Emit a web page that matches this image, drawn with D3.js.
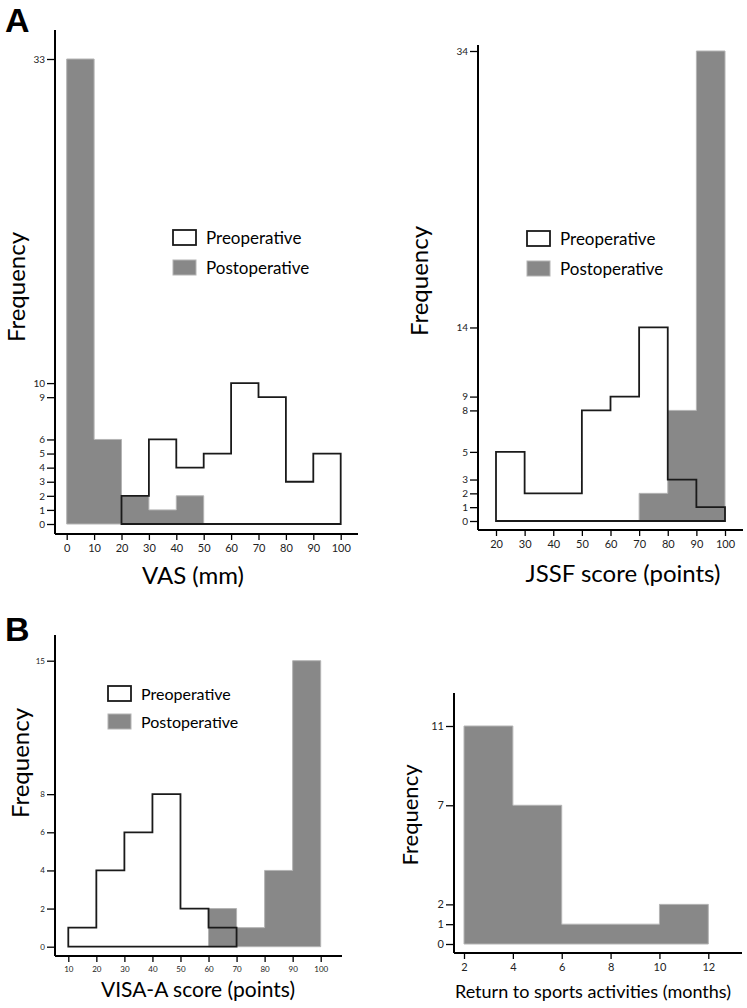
<!DOCTYPE html>
<html>
<head>
<meta charset="utf-8">
<script src="https://cdn.jsdelivr.net/npm/d3@7"></script>
<style>
  body { margin: 0; background: #fff; }
  svg text { font-family: Lato, 'Open Sans', sans-serif; }
  .tick text { fill: #222; }
  .panel-label { font-family: 'Liberation Sans', Arial, sans-serif !important; font-weight: bold; }
</style>
</head>
<body>
<svg width="747" height="1008"></svg>
<script>
  // --- data: histogram bin edges and counts per panel ---
  const legendItems = ['Preoperative', 'Postoperative'];

  const vasBins = [0, 10, 20, 30, 40, 50, 60, 70, 80, 90, 100];
  const vasPre = [0, 0, 2, 6, 4, 5, 10, 9, 3, 5];
  const vasPost = [33, 6, 2, 1, 2, 0, 0, 0, 0, 0];
  const vasYTicks = [0, 1, 2, 3, 4, 5, 6, 9, 10, 33];

  const jssfBins = [20, 30, 40, 50, 60, 70, 80, 90, 100];
  const jssfPre = [5, 2, 2, 8, 9, 14, 3, 1];
  const jssfPost = [0, 0, 0, 0, 0, 2, 8, 34];
  const jssfYTicks = [0, 1, 2, 3, 5, 8, 9, 14, 34];

  const visaBins = [10, 20, 30, 40, 50, 60, 70, 80, 90, 100];
  const visaPre = [1, 4, 6, 8, 2, 1, 0, 0, 0];
  const visaPost = [0, 0, 0, 0, 0, 2, 1, 4, 15];
  const visaYTicks = [0, 2, 4, 6, 8, 15];

  const rtsBins = [2, 4, 6, 8, 10, 12];
  const rtsPost = [11, 7, 1, 1, 2];
  const rtsYTicks = [0, 1, 2, 7, 11];
  const rtsXTicks = [2, 4, 6, 8, 10, 12];

  const svg = d3.select('svg');

  // outline polygon of a histogram (only over the non-zero bins)
  const histPoints = (bins, counts) => {
    const nz = counts.map((c, i) => c > 0 ? i : -1).filter(i => i >= 0);
    const i0 = d3.min(nz), i1 = d3.max(nz);
    const pts = [[bins[i0], 0]];
    for (let i = i0; i <= i1; i++) {
      pts.push([bins[i], counts[i]]);
      pts.push([bins[i + 1], counts[i]]);
    }
    pts.push([bins[i1 + 1], 0]);
    return pts;
  };

  const drawPanel = p => {
    const x = d3.scaleLinear().domain(p.xDomain).range(p.xRange);
    const y = d3.scaleLinear().domain(p.yDomain).range(p.yRange);
    const g = svg.append('g');
    const line = d3.line().x(d => x(d[0])).y(d => y(d[1]));

    if (p.post) {
      g.append('path')
        .attr('d', line(histPoints(p.bins, p.post)) + 'Z')
        .attr('fill', '#888')
        .attr('stroke', '#b4b4b4')
        .attr('stroke-width', 1);
    }
    if (p.pre) {
      g.append('path')
        .attr('d', line(histPoints(p.bins, p.pre)) + 'Z')
        .attr('fill', 'none')
        .attr('stroke', '#1a1a1a')
        .attr('stroke-width', 1.8);
    }

    // axes
    const yAxisG = g.append('g')
      .attr('transform', `translate(${p.axisX},0)`)
      .call(d3.axisLeft(y).tickValues(p.yTicks).tickSize(8).tickPadding(2).tickSizeOuter(0));
    yAxisG.select('.domain').remove();
    yAxisG.selectAll('.tick text').style('font-size', p.yTickSize + 'px');
    yAxisG.selectAll('.tick line').attr('stroke-width', 1.3);

    const xAxisG = g.append('g')
      .attr('transform', `translate(0,${p.axisY})`)
      .call(d3.axisBottom(x).tickValues(p.xTicks).tickSize(6).tickPadding(4).tickSizeOuter(0));
    xAxisG.select('.domain').remove();
    xAxisG.selectAll('.tick text').style('font-size', p.xTickSize + 'px');
    xAxisG.selectAll('.tick line').attr('stroke-width', 1.3);

    g.append('line')
      .attr('x1', p.axisX).attr('x2', p.axisX)
      .attr('y1', p.axisTop).attr('y2', p.axisY)
      .attr('stroke', '#000').attr('stroke-width', 2);
    g.append('line')
      .attr('x1', p.axisX).attr('x2', p.axisRight)
      .attr('y1', p.axisY).attr('y2', p.axisY)
      .attr('stroke', '#000').attr('stroke-width', 2);

    // titles
    g.append('text')
      .attr('x', p.xTitle[0]).attr('y', p.xTitle[1])
      .attr('text-anchor', 'middle')
      .style('font-size', p.xTitle[2] + 'px')
      .text(p.xLabel);
    g.append('text')
      .attr('transform', `translate(${p.yTitle[0]},${p.yTitle[1]}) rotate(-90)`)
      .attr('text-anchor', 'middle')
      .style('font-size', p.yTitle[2] + 'px')
      .text('Frequency');

    // legend
    if (p.legend) {
      const [lx, ly, gap] = p.legend;
      legendItems.forEach((name, i) => {
        g.append('rect')
          .attr('x', lx).attr('y', ly + i * gap)
          .attr('width', 23).attr('height', 15)
          .attr('fill', i === 0 ? '#fff' : '#888')
          .attr('stroke', i === 0 ? '#1a1a1a' : '#b4b4b4')
          .attr('stroke-width', i === 0 ? 1.8 : 1);
        g.append('text')
          .attr('x', lx + 33).attr('y', ly + i * gap + 14)
          .style('font-size', p.legendSize + 'px')
          .text(name);
      });
    }
  };

  drawPanel({
    bins: vasBins, pre: vasPre, post: vasPost,
    xDomain: [0, 100], xRange: [66.7, 340.7],
    yDomain: [0, 33], yRange: [524, 59],
    xTicks: vasBins, yTicks: vasYTicks,
    axisX: 55, axisY: 534, axisTop: 30, axisRight: 358,
    xTickSize: 11, yTickSize: 10,
    xLabel: 'VAS (mm)', xTitle: [193, 584, 24], yTitle: [25, 287, 24],
    legend: [173, 230, 30], legendSize: 17
  });

  drawPanel({
    bins: jssfBins, pre: jssfPre, post: jssfPost,
    xDomain: [20, 100], xRange: [496, 725],
    yDomain: [0, 34], yRange: [521, 51],
    xTicks: jssfBins, yTicks: jssfYTicks,
    axisX: 478, axisY: 530, axisTop: 45, axisRight: 743,
    xTickSize: 11, yTickSize: 10,
    xLabel: 'JSSF score (points)', xTitle: [623, 582, 24], yTitle: [428, 281, 24],
    legend: [527, 231, 30], legendSize: 17
  });

  drawPanel({
    bins: visaBins, pre: visaPre, post: visaPost,
    xDomain: [10, 100], xRange: [68.3, 320.7],
    yDomain: [0, 15], yRange: [946.7, 660.7],
    xTicks: visaBins, yTicks: visaYTicks,
    axisX: 55, axisY: 956, axisTop: 635, axisRight: 342,
    xTickSize: 8, yTickSize: 8,
    xLabel: 'VISA-A score (points)', xTitle: [198, 997, 21], yTitle: [29, 763, 24],
    legend: [108, 686, 28], legendSize: 16
  });

  drawPanel({
    bins: rtsBins, post: rtsPost,
    xDomain: [2, 12], xRange: [464, 708.3],
    yDomain: [0, 11], yRange: [944, 726],
    xTicks: rtsXTicks, yTicks: rtsYTicks,
    axisX: 454, axisY: 953, axisTop: 693, axisRight: 742,
    xTickSize: 11, yTickSize: 11,
    xLabel: 'Return to sports activities (months)', xTitle: [593, 998, 18], yTitle: [418, 815, 22]
  });

  // panel letters
  svg.append('text').attr('class', 'panel-label')
    .attr('x', 5).attr('y', 32).style('font-size', '34px').text('A');
  svg.append('text').attr('class', 'panel-label')
    .attr('x', 5).attr('y', 641).style('font-size', '34px').text('B');
</script>
</body>
</html>
